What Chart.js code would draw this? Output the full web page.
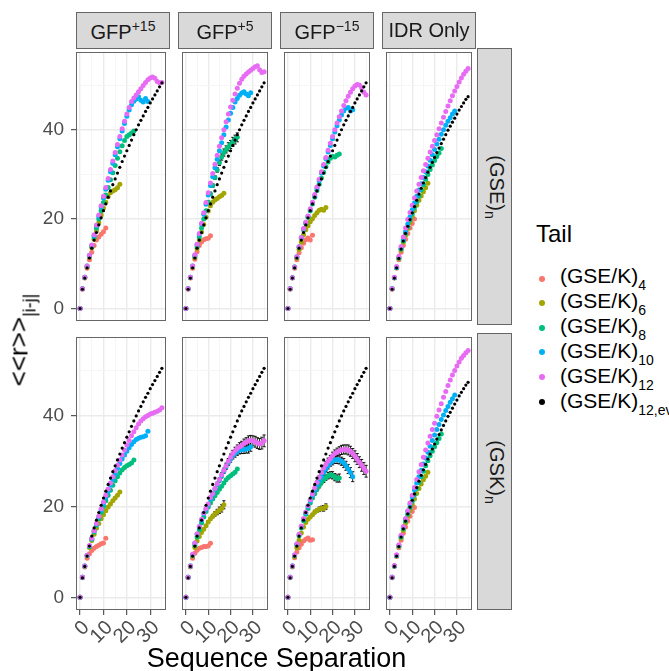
<!DOCTYPE html>
<html><head><meta charset="utf-8">
<script src="https://cdn.jsdelivr.net/npm/chart.js@4.4.1/dist/chart.umd.min.js"></script>
<style>
body{margin:0;width:669px;height:671px;overflow:hidden;background:#fff;position:relative;font-family:'Liberation Sans',Arial,sans-serif;}
canvas{position:absolute;}
.strip{position:absolute;box-sizing:border-box;background:#D9D9D9;border:1px solid #666;display:flex;align-items:center;justify-content:center;font-size:20px;color:#1A1A1A;white-space:nowrap;overflow:hidden;}
.strip sup{font-size:14px;vertical-align:8px;}
.rot{display:inline-block;transform:rotate(90deg);white-space:nowrap;}
.rot sub{font-size:14px;vertical-align:-5px;}
.leg{position:absolute;left:560px;font-size:21px;line-height:1;color:#000;white-space:nowrap;}
.leg sub{font-size:14px;vertical-align:-7px;}
.dot{position:absolute;width:6px;height:6px;border-radius:50%;}
</style>
</head><body>
<script>
// ---------------- data ----------------
const separation = [0,1,2,3,4,5,6,7,8,9,10,11,12,13,14,15,16,17,18,19,20,21,22,23,24,25,26,27,28,29,30,31,32,33,34,35];
const xTickLabels = ["0","10","20","30"];
const yTickLabels = ["0","20","40"];
const columnLabels = ["GFP+15","GFP+5","GFP−15","IDR Only"];
const rowLabels = ["(GSE)n","(GSK)n"];
const tailLabels = ["(GSE/K)4","(GSE/K)6","(GSE/K)8","(GSE/K)10","(GSE/K)12","(GSE/K)12,ev"];

// excluded-volume reference (black)
const ev_gfp = [0,4.3,6.8,9.1,11.3,13.5,15.3,17.0,18.7,20.3,21.9,23.4,24.9,26.3,27.7,29.0,30.3,31.6,32.9,34.1,35.3,36.5,37.7,38.9,40.0,41.1,42.1,43.1,44.1,45.0,46.0,46.9,47.8,48.7,49.6,50.5];
const ev_idr = [0,4.3,6.8,9.1,11.2,13.3,15.1,16.8,18.4,19.9,21.4,22.8,24.2,25.6,26.9,28.1,29.3,30.5,31.6,32.7,33.8,34.9,35.9,36.9,37.9,38.9,39.9,40.8,41.7,42.6,43.5,44.4,45.2,46.0,46.8,47.4];

// (GSE)n row
const gse_gfpP15_4  = [0,4.3,6.8,9.0,10.9,12.6,14.1,15.3,16.0,16.6,17.2,18.0];
const gse_gfpP15_6  = [0,4.4,6.9,9.3,11.5,13.6,15.5,17.4,19.2,20.9,22.5,23.8,25.0,25.9,26.3,26.6,27.0,27.8];
const gse_gfpP15_8  = [0,4.4,7.0,9.4,11.7,13.9,16.0,18.0,20.0,21.9,23.7,25.4,27.1,28.8,30.4,32.0,33.6,35.1,36.4,37.6,38.5,38.9,39.3,39.7];
const gse_gfpP15_10 = [0,4.4,7.0,9.5,11.9,14.1,16.3,18.5,20.6,22.7,24.7,26.7,28.7,30.6,32.5,34.4,36.2,38.0,39.7,41.4,43.0,44.4,45.6,46.4,46.9,47.4,46.6,46.2,47.0,46.3];
const gse_gfpP15_12 = [0,4.4,7.0,9.5,11.9,14.2,16.5,18.7,20.9,23.0,25.1,27.1,29.1,31.1,33.0,34.9,36.7,38.5,40.2,41.9,43.5,45.0,46.3,47.1,47.8,48.5,49.2,49.9,50.6,51.2,51.6,51.8,51.5,50.8,50.5,50.6];

const gse_gfpP5_4  = [0,4.3,6.8,9.0,11.0,12.7,14.1,14.9,15.4,15.6,15.7,16.3];
const gse_gfpP5_6  = [0,4.4,6.9,9.3,11.4,13.4,15.3,17.1,18.8,20.4,21.8,23.0,23.8,24.3,24.6,25.0,25.3,25.8];
const gse_gfpP5_8  = [0,4.4,7.0,9.4,11.7,13.9,16.0,18.0,20.0,21.9,23.8,25.7,27.5,29.3,31.0,32.6,33.9,34.9,35.6,36.2,36.7,37.3,37.8,38.3];
const gse_gfpP5_10 = [0,4.4,7.0,9.5,11.9,14.3,16.6,18.9,21.1,23.3,25.4,27.5,29.5,31.5,33.4,35.3,37.1,38.9,40.6,42.2,43.7,45.0,46.2,47.0,47.7,48.2,48.5,48.0,47.6,48.3];
const gse_gfpP5_12 = [0,4.4,7.0,9.5,12.0,14.4,16.8,19.1,21.4,23.7,25.9,28.1,30.2,32.3,34.3,36.3,38.2,40.0,41.8,43.5,45.1,46.6,48.0,49.3,50.4,51.3,52.0,52.5,52.9,53.3,53.7,54.1,54.3,53.4,52.8,53.0];

const gse_gfpM15_4  = [0,4.3,6.8,9.0,10.9,12.5,13.6,14.6,15.4,15.8,15.3,16.4];
const gse_gfpM15_6  = [0,4.4,6.9,9.2,11.3,13.2,14.9,16.5,17.6,18.5,19.4,20.1,20.8,21.4,22.0,22.2,22.0,22.6];
const gse_gfpM15_8  = [0,4.4,6.9,9.3,11.5,13.7,15.7,17.6,19.0,20.4,21.9,23.4,24.9,26.4,27.8,29.2,30.5,31.7,32.8,33.6,34.0,33.9,34.3,34.6];
const gse_gfpM15_10 = [0,4.4,6.9,9.3,11.6,13.8,15.9,17.8,19.2,20.6,22.1,23.6,25.2,26.9,28.6,30.3,31.9,33.5,35.0,36.5,38.0,39.5,40.9,42.2,43.3,44.2,44.8,45.0,44.2,44.5];
const gse_gfpM15_12 = [0,4.4,6.9,9.3,11.6,13.8,15.9,17.9,19.3,20.7,22.3,23.8,25.5,27.2,28.9,30.6,32.2,33.8,35.4,37.0,38.5,40.0,41.5,42.9,44.2,45.4,46.5,47.5,48.4,49.2,49.8,50.1,50.0,49.4,48.4,47.8];

const gse_idr_4  = [0,4.3,6.8,9.0,10.9,12.6,14.1,15.5,16.8,18.0,19.0,20.0];
const gse_idr_6  = [0,4.4,6.9,9.1,11.2,13.1,14.8,16.4,17.9,19.3,20.6,21.9,23.1,24.2,25.2,26.1,27.0,28.0];
const gse_idr_8  = [0,4.4,6.9,9.2,11.3,13.3,15.1,16.8,18.3,19.8,21.2,22.6,23.9,25.2,26.5,27.7,28.9,30.0,31.1,32.1,33.1,34.0,34.8,35.8];
const gse_idr_10 = [0,4.4,6.9,9.2,11.4,13.5,15.4,17.2,18.9,20.5,22.1,23.6,25.1,26.5,27.9,29.3,30.6,31.9,33.2,34.4,35.6,36.8,37.9,39.0,40.0,41.0,41.9,42.7,43.5,44.2];
const gse_idr_12 = [0,4.4,7.0,9.4,11.7,13.9,16.0,18.0,19.9,21.5,23.1,24.7,26.3,27.8,29.3,30.8,32.2,33.6,35.0,36.3,37.6,38.9,40.2,41.5,42.8,44.1,45.3,46.5,47.6,48.7,49.7,50.7,51.6,52.4,53.1,53.7];

// (GSK)n row
const gsk_gfpP15_4  = [0,4.3,6.7,8.6,9.6,10.3,10.8,11.2,11.5,11.8,12.0,13.0];
const gsk_gfpP15_6  = [0,4.4,6.8,9.1,11.0,12.5,13.9,15.2,16.3,17.3,18.2,19.1,19.9,20.6,21.3,21.9,22.5,23.2];
const gsk_gfpP15_8  = [0,4.4,6.9,9.2,11.2,12.8,14.4,15.9,17.3,18.7,20.0,21.3,22.5,23.6,24.7,25.7,26.6,27.4,28.1,28.6,29.0,29.3,29.6,30.3];
const gsk_gfpP15_10 = [0,4.4,6.9,9.2,11.3,12.9,14.6,16.1,17.7,19.2,20.6,22.0,23.4,24.7,26.0,27.2,28.4,29.5,30.5,31.4,32.2,33.0,33.7,34.3,34.8,35.1,35.3,35.4,35.6,36.6];
const gsk_gfpP15_12 = [0,4.4,6.9,9.3,11.4,13.0,14.7,16.3,17.9,19.5,21.0,22.5,23.9,25.2,26.6,27.9,29.1,30.3,31.4,32.5,33.6,34.6,35.6,36.5,37.4,38.2,38.9,39.4,39.8,40.1,40.4,40.6,40.8,41.0,41.3,41.8];

const gsk_gfpP5_4  = [0,4.3,6.7,8.6,9.7,10.4,10.8,11.0,11.2,11.2,11.3,11.9];
const gsk_gfpP5_6  = [0,4.4,6.8,9.1,11.0,12.4,13.4,14.3,15.0,15.8,16.6,17.3,17.9,18.4,18.8,19.2,19.6,20.4];
const gsk_gfpP5_8  = [0,4.4,6.9,9.3,11.5,13.3,14.9,16.4,17.7,18.9,19.9,20.8,21.7,22.4,23.1,23.8,24.5,25.2,25.9,26.4,26.8,27.2,27.6,28.3];
const gsk_gfpP5_10 = [0,4.4,6.9,9.4,11.9,13.9,15.5,17.0,18.4,19.4,20.4,21.7,22.7,23.8,24.8,25.8,26.8,27.8,28.8,29.7,30.5,31.2,31.7,32.1,32.4,32.6,32.6,32.7,32.8,33.2];
const gsk_gfpP5_12 = [0,4.4,6.9,9.5,12.0,14.0,15.6,17.2,18.6,19.6,20.6,22.0,22.9,24.0,25.0,26.0,27.0,28.0,29.0,30.0,30.9,31.7,32.3,32.8,33.2,33.5,33.9,34.2,34.5,34.6,34.5,34.3,34.0,33.8,34.0,34.5];

const gsk_gfpM15_4  = [0,4.3,6.7,8.7,10.0,10.9,11.7,12.4,12.8,13.1,12.6,12.7];
const gsk_gfpM15_6  = [0,4.4,6.8,9.0,10.9,12.6,14.2,15.5,16.5,17.2,17.7,18.2,18.8,19.1,19.4,19.6,19.6,20.0];
const gsk_gfpM15_8  = [0,4.4,6.9,9.3,11.6,13.6,15.3,16.9,18.3,19.6,20.8,21.9,22.9,23.8,24.6,25.3,25.9,26.4,26.8,27.0,26.9,26.5,26.2,26.3];
const gsk_gfpM15_10 = [0,4.4,6.9,9.3,11.7,13.8,15.6,17.2,18.6,20.0,21.3,22.5,23.6,24.7,25.7,26.6,27.5,28.3,29.0,29.6,30.0,30.3,30.4,30.3,30.0,29.6,29.0,28.3,27.5,26.6];
const gsk_gfpM15_12 = [0,4.4,6.9,9.4,11.8,13.9,15.7,17.4,18.8,20.2,21.5,22.8,24.1,25.3,26.4,27.5,28.5,29.3,30.0,30.6,31.2,31.7,32.0,32.3,32.5,32.6,32.6,32.5,32.2,31.7,31.1,30.5,29.8,29.1,28.4,27.8];

const gsk_idr_4  = [0,4.3,6.8,9.0,10.9,12.6,14.1,15.5,16.8,17.9,18.9,19.8];
const gsk_idr_6  = [0,4.4,6.9,9.1,11.2,13.1,14.8,16.4,17.9,19.2,20.5,21.7,22.9,24.0,25.0,25.9,26.7,27.6];
const gsk_idr_8  = [0,4.4,6.9,9.2,11.3,13.3,15.1,16.8,18.3,19.8,21.2,22.6,24.0,25.3,26.6,27.8,29.0,30.1,31.2,32.2,33.2,34.1,35.0,36.0];
const gsk_idr_10 = [0,4.4,6.9,9.2,11.4,13.5,15.4,17.2,18.9,20.5,22.1,23.7,25.2,26.6,28.0,29.4,30.7,32.0,33.3,34.6,35.8,37.0,38.1,39.2,40.2,41.2,42.1,43.0,43.8,44.6];
const gsk_idr_12 = [0,4.4,7.0,9.4,11.6,13.7,15.6,17.4,19.1,20.8,22.5,24.2,26.0,27.7,29.3,30.9,32.5,34.0,35.5,37.0,38.4,39.9,41.3,42.7,44.1,45.4,46.7,47.9,49.0,50.0,51.0,51.9,52.7,53.3,53.9,54.4];

// error-bar half widths (only where bars are visible)
const err_gse_gfpP5_8   = [0,0,0,0,0,0,0,0,0.2,0.2,0.3,0.3,0.4,0.4,0.5,0.6,0.7,0.8,0.8,0.9,0.9,1.0,1.0,1.0];
const err_gsk_gfpP5_6   = [0,0,0,0,0,0,0,0,0.2,0.2,0.3,0.3,0.4,0.5,0.6,0.7,0.8,0.9];
const err_gsk_gfpP5_10  = [0,0,0,0,0,0,0,0,0.2,0.2,0.2,0.3,0.3,0.3,0.4,0.4,0.5,0.5,0.6,0.6,0.7,0.7,0.8,0.8,0.8,0.9,0.9,0.9,1.0,1.0];
const err_gsk_gfpP5_12  = [0,0,0,0,0,0,0,0,0.2,0.2,0.2,0.3,0.3,0.3,0.4,0.4,0.5,0.5,0.6,0.6,0.7,0.7,0.8,0.8,0.9,0.9,1.0,1.0,1.1,1.1,1.1,1.2,1.2,1.2,1.3,1.3];
const err_gsk_gfpM15_6  = [0,0,0,0,0,0,0,0,0.2,0.2,0.3,0.3,0.4,0.4,0.5,0.5,0.6,0.6];
const err_gsk_gfpM15_8  = [0,0,0,0,0,0,0,0,0.2,0.2,0.3,0.3,0.4,0.4,0.5,0.5,0.6,0.6,0.7,0.7,0.8,0.8,0.8,0.9];
const err_gsk_gfpM15_10 = [0,0,0,0,0,0,0,0,0.2,0.2,0.3,0.3,0.4,0.4,0.5,0.5,0.6,0.6,0.7,0.7,0.8,0.8,0.9,0.9,0.9,1.0,1.0,1.0,1.1,1.1];
const err_gsk_gfpM15_12 = [0,0,0,0,0,0,0,0,0.2,0.2,0.3,0.3,0.4,0.4,0.5,0.5,0.6,0.6,0.7,0.7,0.8,0.8,0.9,0.9,1.0,1.0,1.0,1.1,1.1,1.1,1.2,1.2,1.2,1.3,1.3,1.3];

// ---------------- layout / style ----------------
const tailColors = ['#F8766D','#A3A500','#00BF7D','#00B0F6','#E76BF3','#000000'];
const FONT = "'Liberation Sans', Arial, sans-serif";
const LEFTS = [76,178,280,382], PW = 94;
const TOPS = [48,333], PH = 277;
const YAXW = 46, XAXH = 42;

const panels = [
  {row:0,col:0,s:[gse_gfpP15_4,gse_gfpP15_6,gse_gfpP15_8,gse_gfpP15_10,gse_gfpP15_12],ev:ev_gfp,e:[]},
  {row:0,col:1,s:[gse_gfpP5_4,gse_gfpP5_6,gse_gfpP5_8,gse_gfpP5_10,gse_gfpP5_12],ev:ev_gfp,e:[null,null,err_gse_gfpP5_8]},
  {row:0,col:2,s:[gse_gfpM15_4,gse_gfpM15_6,gse_gfpM15_8,gse_gfpM15_10,gse_gfpM15_12],ev:ev_gfp,e:[]},
  {row:0,col:3,s:[gse_idr_4,gse_idr_6,gse_idr_8,gse_idr_10,gse_idr_12],ev:ev_idr,e:[]},
  {row:1,col:0,s:[gsk_gfpP15_4,gsk_gfpP15_6,gsk_gfpP15_8,gsk_gfpP15_10,gsk_gfpP15_12],ev:ev_gfp,e:[]},
  {row:1,col:1,s:[gsk_gfpP5_4,gsk_gfpP5_6,gsk_gfpP5_8,gsk_gfpP5_10,gsk_gfpP5_12],ev:ev_gfp,e:[null,err_gsk_gfpP5_6,null,err_gsk_gfpP5_10,err_gsk_gfpP5_12]},
  {row:1,col:2,s:[gsk_gfpM15_4,gsk_gfpM15_6,gsk_gfpM15_8,gsk_gfpM15_10,gsk_gfpM15_12],ev:ev_gfp,e:[null,err_gsk_gfpM15_6,err_gsk_gfpM15_8,err_gsk_gfpM15_10,err_gsk_gfpM15_12]},
  {row:1,col:3,s:[gsk_idr_4,gsk_idr_6,gsk_idr_8,gsk_idr_10,gsk_idr_12],ev:ev_idr,e:[]}
];

function pts(arr){ return arr.map((v,i)=>({x:separation[i], y:v})); }

const borderPlugin = {
  id:'panelBorder',
  afterDraw(chart){
    const a = chart.chartArea, ctx = chart.ctx;
    ctx.save();
    ctx.strokeStyle = '#666';
    ctx.lineWidth = 1;
    ctx.strokeRect(Math.round(a.left)+0.5, Math.round(a.top)+0.5, Math.round(a.right-a.left)-1, Math.round(a.bottom-a.top)-1);
    ctx.restore();
  }
};
const errorBarPlugin = {
  id:'errorBars',
  beforeDatasetsDraw(chart){
    const ctx = chart.ctx, xs = chart.scales.x, ys = chart.scales.y;
    ctx.save();
    ctx.strokeStyle = '#000'; ctx.lineWidth = 0.9;
    chart.data.datasets.forEach(ds=>{
      if(!ds.errors) return;
      ds.data.forEach((pt,i)=>{
        const e = ds.errors[i]; if(!e) return;
        const px = xs.getPixelForValue(pt.x);
        const y1 = ys.getPixelForValue(pt.y - e), y2 = ys.getPixelForValue(pt.y + e);
        ctx.beginPath();
        ctx.moveTo(px, y1); ctx.lineTo(px, y2);
        ctx.moveTo(px-1.6, y1); ctx.lineTo(px+1.6, y1);
        ctx.moveTo(px-1.6, y2); ctx.lineTo(px+1.6, y2);
        ctx.stroke();
      });
    });
    ctx.restore();
  }
};

panels.forEach(p=>{
  const showY = p.col===0, showX = p.row===1;
  const cv = document.createElement('canvas');
  const w = PW + (showY?YAXW:0), h = PH + (showX?XAXH:0);
  cv.width = w; cv.height = h;
  cv.style.width = w+'px'; cv.style.height = h+'px';
  cv.style.left = (LEFTS[p.col]-(showY?YAXW:0))+'px';
  cv.style.top = TOPS[p.row]+'px';
  document.body.appendChild(cv);

  const datasets = [];
  datasets.push({label:tailLabels[5], data:pts(p.ev), pointRadius:1.6, pointBackgroundColor:tailColors[5], pointBorderWidth:0});
  for(let k=4;k>=0;k--){
    datasets.push({label:tailLabels[k], data:pts(p.s[k]), errors:p.e[k]||null, pointRadius:2.5, pointBackgroundColor:tailColors[k], pointBorderWidth:0});
  }

  new Chart(cv, {
    type:'scatter',
    data:{datasets},
    plugins:[errorBarPlugin, borderPlugin],
    options:{
      responsive:false, animation:false, devicePixelRatio:1,
      layout:{padding:0},
      plugins:{legend:{display:false}, tooltip:{enabled:false}},
      scales:{
        x:{
          type:'linear', min:-1.75, max:36.75,
          border:{display:false},
          grid:{
            color:c=> (c.tick && c.tick.value%10===0) ? '#EBEBEB' : '#F4F4F4',
            lineWidth:c=> (c.tick && c.tick.value%10===0) ? 1.4 : 0.8,
            drawTicks:showX, tickLength:5, tickWidth:1,
            tickColor:c=> (c.tick && c.tick.value%10===0) ? '#333333' : 'rgba(0,0,0,0)'
          },
          ticks:{
            display:showX, stepSize:5, includeBounds:false, autoSkip:false,
            minRotation:45, maxRotation:45, padding:1, labelOffset:6,
            color:'#4D4D4D', font:{family:FONT, size:20},
            callback:v=> (v%10===0 && xTickLabels.indexOf(String(v))>=0) ? String(v) : ''
          },
          afterFit:s=>{ s.height = showX?XAXH:0; s.paddingLeft=0; s.paddingRight=0; }
        },
        y:{
          type:'linear', min:-2.8, max:57.4,
          border:{display:false},
          grid:{
            color:c=> (c.tick && c.tick.value%20===0) ? '#EBEBEB' : '#F4F4F4',
            lineWidth:c=> (c.tick && c.tick.value%20===0) ? 1.4 : 0.8,
            drawTicks:showY, tickLength:5, tickWidth:1,
            tickColor:c=> (c.tick && c.tick.value%20===0) ? '#333333' : 'rgba(0,0,0,0)'
          },
          ticks:{
            display:showY, stepSize:10, includeBounds:false, padding:7,
            color:'#4D4D4D', font:{family:FONT, size:19},
            callback:v=> (v%20===0 && yTickLabels.indexOf(String(v))>=0) ? String(v) : ''
          },
          afterFit:s=>{ s.width = showY?YAXW:0; s.paddingTop=0; s.paddingBottom=0; }
        }
      }
    }
  });
});

// strips
function addDiv(cls, style, html){
  const d = document.createElement('div');
  d.className = cls; Object.assign(d.style, style); d.innerHTML = html; document.body.appendChild(d); return d;
}
columnLabels.forEach((lab,c)=>{
  let html = lab;
  const m = lab.match(/^GFP(.+)$/);
  if(m) html = 'GFP<sup>'+m[1]+'</sup>';
  addDiv('strip',{left:LEFTS[c]+'px',top:'12px',width:PW+'px',height:'37px'},'<span>'+html+'</span>');
});
rowLabels.forEach((lab,r)=>{
  const html = '<span class="rot">'+lab.slice(0,-1)+'<sub>'+lab.slice(-1)+'</sub></span>';
  addDiv('strip',{left:'477px',top:TOPS[r]+'px',width:'35px',height:PH+'px'},html);
});

// axis titles
addDiv('',{position:'absolute',left:'0px',width:'553px',top:'645px',textAlign:'center',fontSize:'27px',lineHeight:'1',color:'#000',whiteSpace:'nowrap'},'Sequence Separation');
addDiv('',{position:'absolute',left:'22px',top:'340px',transform:'translate(-50%,-50%) rotate(-90deg)',fontSize:'26px',lineHeight:'1',color:'#000',whiteSpace:'nowrap'},'&lt;&lt;r&gt;&gt;<sub style="font-size:18px;vertical-align:-8px">|i-j|</sub>');

// legend
addDiv('',{position:'absolute',left:'536px',top:'222px',fontSize:'24px',lineHeight:'1',color:'#000'},'Tail');
tailLabels.forEach((lab,k)=>{
  const m = lab.match(/^(\(GSE\/K\))(.+)$/);
  addDiv('leg',{top:(265+25*k)+'px'},m[1]+'<sub>'+m[2]+'</sub>');
  addDiv('dot',{left:(539)+'px',top:(275.5+24.6*k)+'px',background:tailColors[k]},'');
});
</script>
</body></html>
